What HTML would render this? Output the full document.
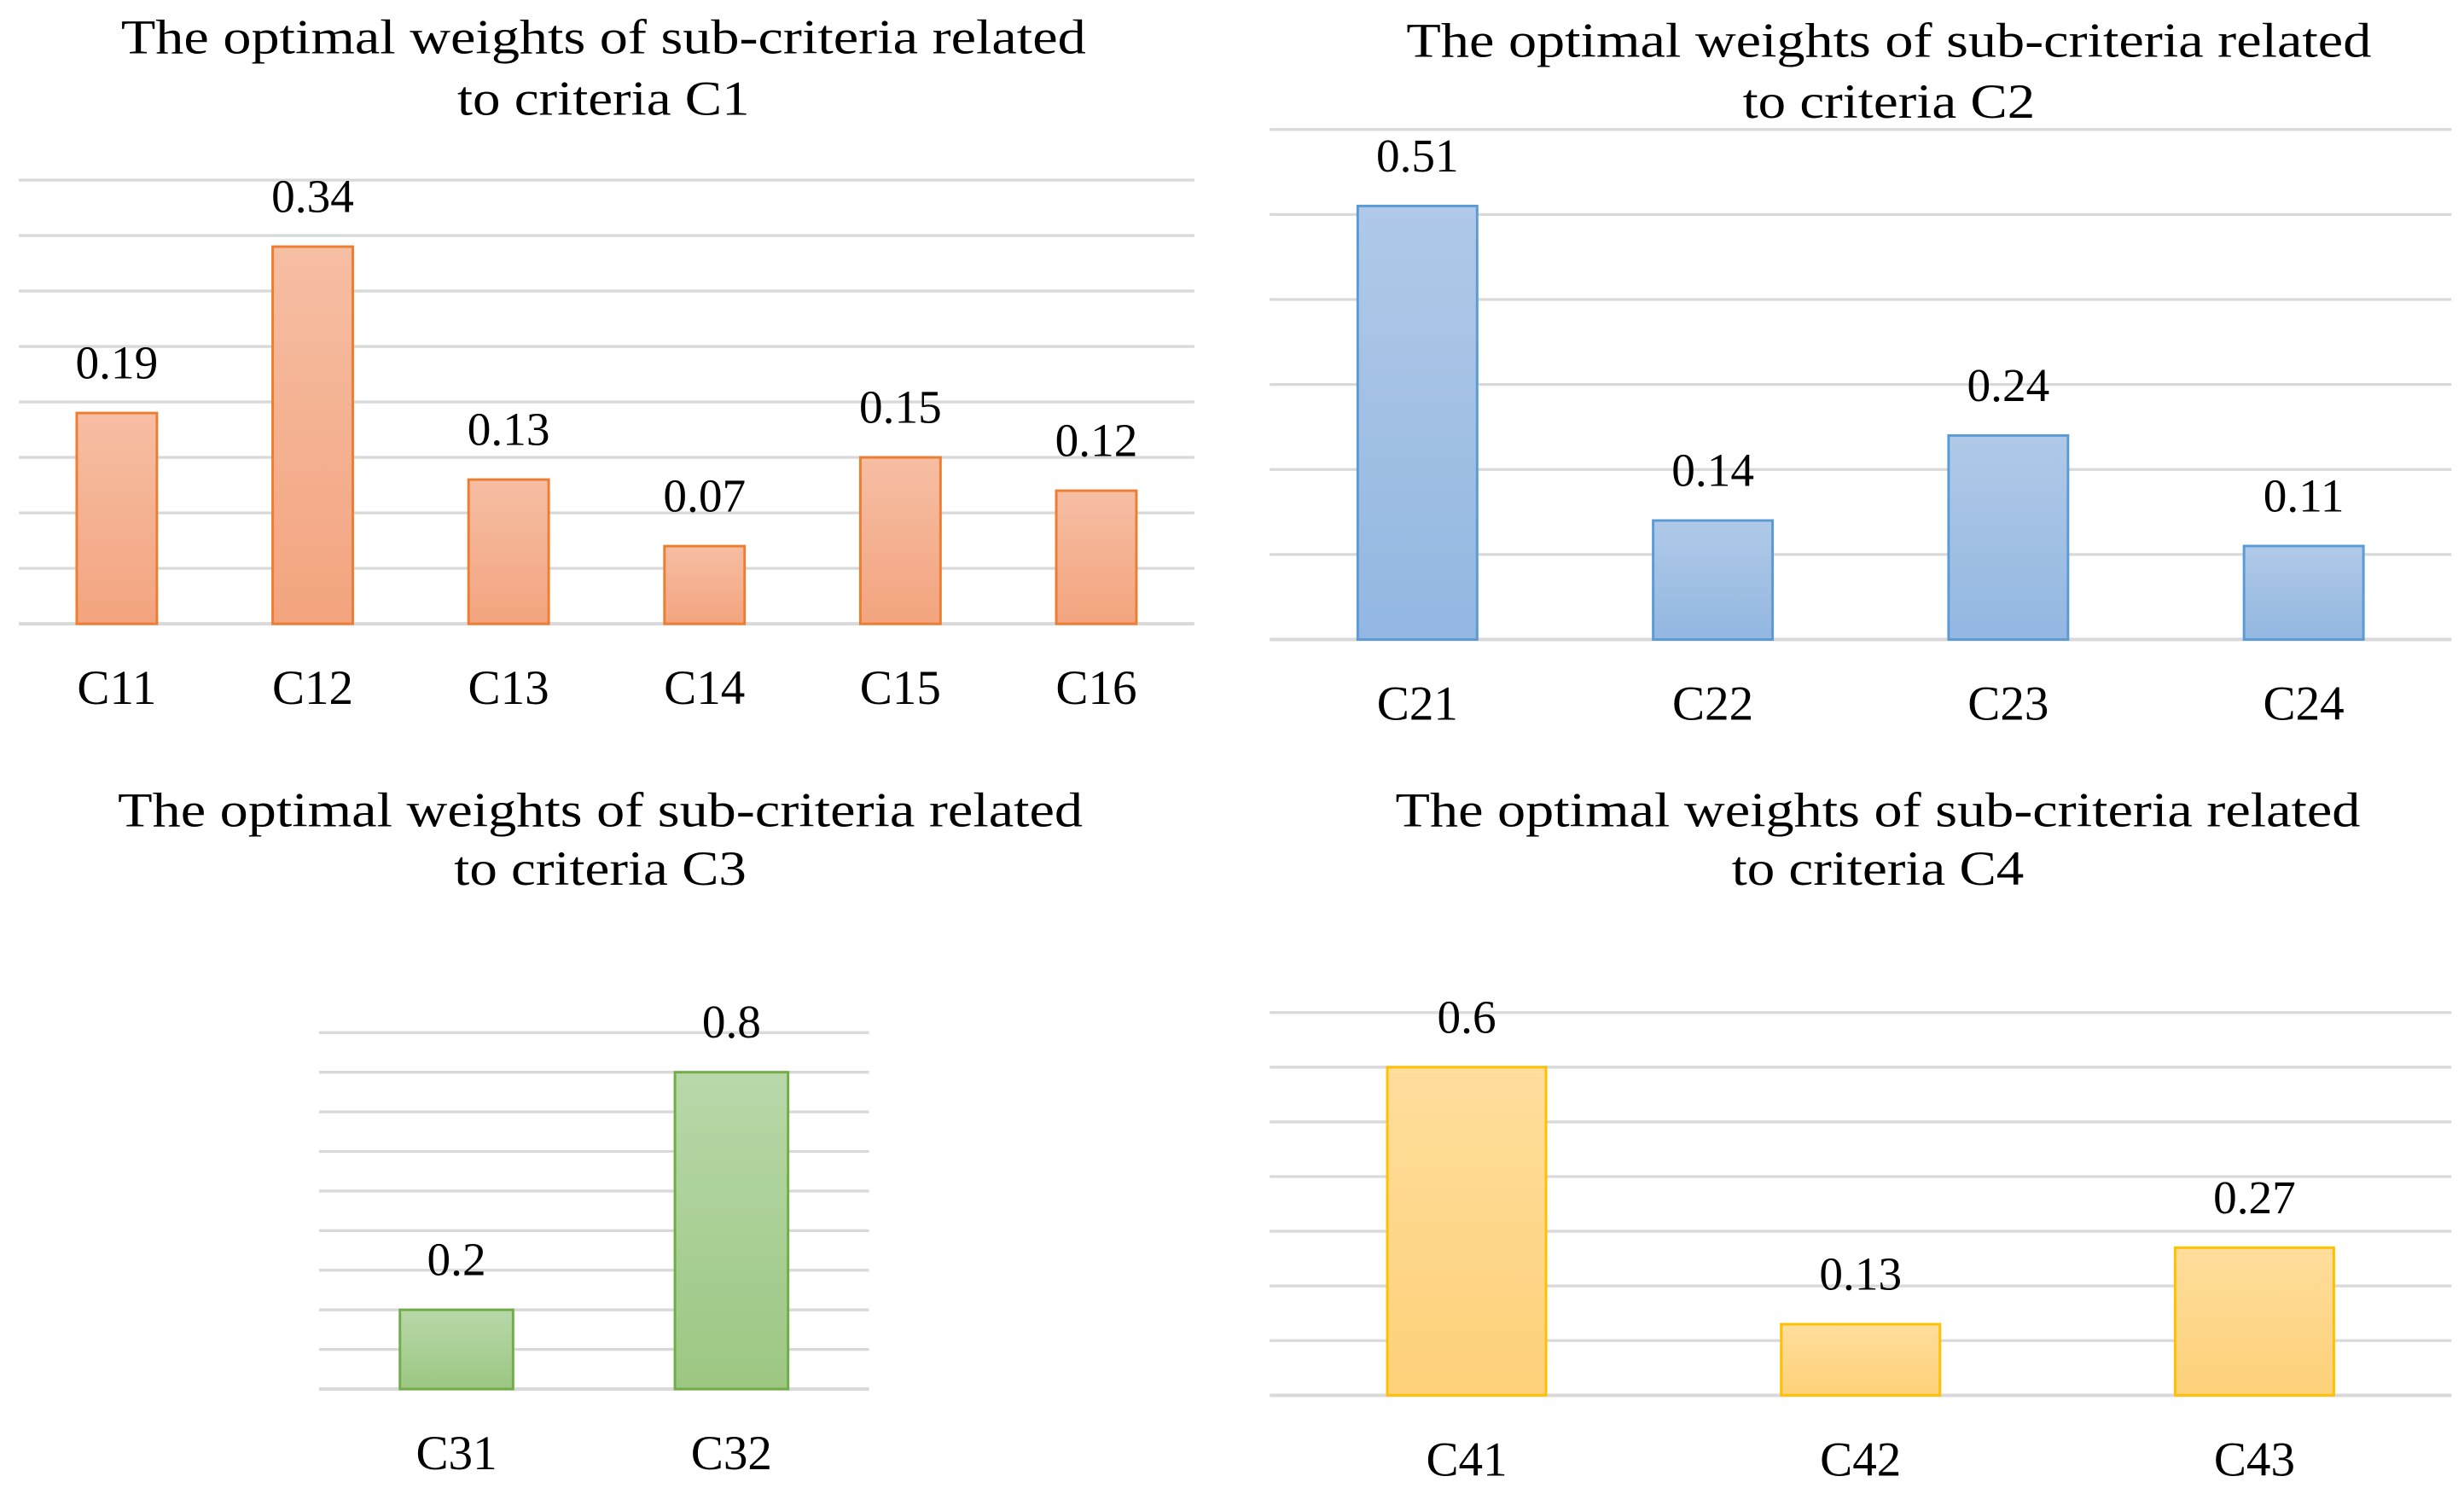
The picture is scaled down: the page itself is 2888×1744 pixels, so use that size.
<!DOCTYPE html>
<html><head><meta charset="utf-8"><style>
html,body{margin:0;padding:0;background:#fff;}
svg{display:block;}
text{font-family:"Liberation Serif",serif;fill:#000;}
</style></head><body>
<svg id="root" width="2888" height="1744" viewBox="0 0 1568 947" preserveAspectRatio="none" xmlns="http://www.w3.org/2000/svg">
<defs>
<linearGradient id="gO" x1="0" y1="0" x2="0" y2="1"><stop offset="0" stop-color="#f6bea3"/><stop offset="1" stop-color="#f3a47f"/></linearGradient>
<linearGradient id="gB" x1="0" y1="0" x2="0" y2="1"><stop offset="0" stop-color="#b0c9e8"/><stop offset="1" stop-color="#93b7e1"/></linearGradient>
<linearGradient id="gG" x1="0" y1="0" x2="0" y2="1"><stop offset="0" stop-color="#b8d8aa"/><stop offset="1" stop-color="#9cc782"/></linearGradient>
<linearGradient id="gY" x1="0" y1="0" x2="0" y2="1"><stop offset="0" stop-color="#ffdd9c"/><stop offset="1" stop-color="#fed179"/></linearGradient>
</defs>
</svg>
<script>
// Chart 1 data
const c1Categories = ['C11','C12','C13','C14','C15','C16'];
const c1Values = [0.19,0.34,0.13,0.07,0.15,0.12];
const c1Labels = ['0.19','0.34','0.13','0.07','0.15','0.12'];
// Chart 2 data
const c2Categories = ['C21','C22','C23','C24'];
const c2Values = [0.51,0.14,0.24,0.11];
const c2Labels = ['0.51','0.14','0.24','0.11'];
// Chart 3 data
const c3Categories = ['C31','C32'];
const c3Values = [0.2,0.8];
const c3Labels = ['0.2','0.8'];
// Chart 4 data
const c4Categories = ['C41','C42','C43'];
const c4Values = [0.6,0.13,0.27];
const c4Labels = ['0.6','0.13','0.27'];

const NS='http://www.w3.org/2000/svg';
const root=document.getElementById('root');
function mk(tag,attrs,parent){const e=document.createElementNS(NS,tag);for(const k in attrs)e.setAttribute(k,attrs[k]);(parent||root).appendChild(e);return e;}

function drawChart(cfg){
  const g=mk('g',{});
  
  
  cfg.title.forEach((t,i)=>{
    const tt=mk('text',{x:cfg.titleX,y:cfg.titleY[i],'text-anchor':'middle','font-size':31,textLength:cfg.titleW[i],lengthAdjust:'spacingAndGlyphs'},g);
    tt.textContent=t;
    
    
  });
  const y=v=>cfg.base-(v/cfg.step)*cfg.stepPx;
  for(let i=0;i<=cfg.nGrid;i++){
    const gy=y(i*cfg.step);
    const l=mk('line',{x1:cfg.x0,x2:cfg.x1,y1:gy,y2:gy,stroke:'#d9d9d9','stroke-width':i===0?2.2:1.8},g);
    
    
  }
  const n=cfg.cats.length;
  const band=(cfg.x1-cfg.x0)/n;
  const x=i=>cfg.x0+band*(i+0.5);
  cfg.vals.forEach((v,i)=>{
    const top=y(v);
    const r=mk('rect',{x:x(i)-cfg.bw/2,y:top,width:cfg.bw,height:cfg.base-top,fill:cfg.fill,stroke:cfg.stroke,'stroke-width':1.6},g);
    
    
    const vl=mk('text',{x:x(i),y:top-22,'text-anchor':'middle','font-size':30},g);
    vl.textContent=cfg.labels[i];
    
    
    const cl=mk('text',{x:x(i),y:cfg.base+51,'text-anchor':'middle','font-size':31},g);
    cl.textContent=cfg.cats[i];
    
    
  });
}
drawChart({name:'chart-c1',title:['The optimal weights of sub-criteria related','to criteria C1'],titleX:384,titleY:[34,73],titleW:[614,186],
  x0:12,x1:760,base:397,step:0.05,stepPx:35.3,nGrid:8,bw:51,cats:c1Categories,vals:c1Values,labels:c1Labels,fill:'url(#gO)',stroke:'#ed7d31'});
drawChart({name:'chart-c2',title:['The optimal weights of sub-criteria related','to criteria C2'],titleX:1202,titleY:[36,75],titleW:[614,186],
  x0:808,x1:1560,base:407,step:0.1,stepPx:54.1,nGrid:6,bw:76,cats:c2Categories,vals:c2Values,labels:c2Labels,fill:'url(#gB)',stroke:'#5b9bd5'});
drawChart({name:'chart-c3',title:['The optimal weights of sub-criteria related','to criteria C3'],titleX:382,titleY:[526,563],titleW:[614,186],
  x0:203,x1:553,base:884,step:0.1,stepPx:25.2,nGrid:9,bw:72,cats:c3Categories,vals:c3Values,labels:c3Labels,fill:'url(#gG)',stroke:'#70ad47'});
drawChart({name:'chart-c4',title:['The optimal weights of sub-criteria related','to criteria C4'],titleX:1195,titleY:[526,563],titleW:[614,186],
  x0:808,x1:1560,base:888,step:0.1,stepPx:34.8,nGrid:7,bw:101,cats:c4Categories,vals:c4Values,labels:c4Labels,fill:'url(#gY)',stroke:'#ffc000'});
</script>
</body></html>
